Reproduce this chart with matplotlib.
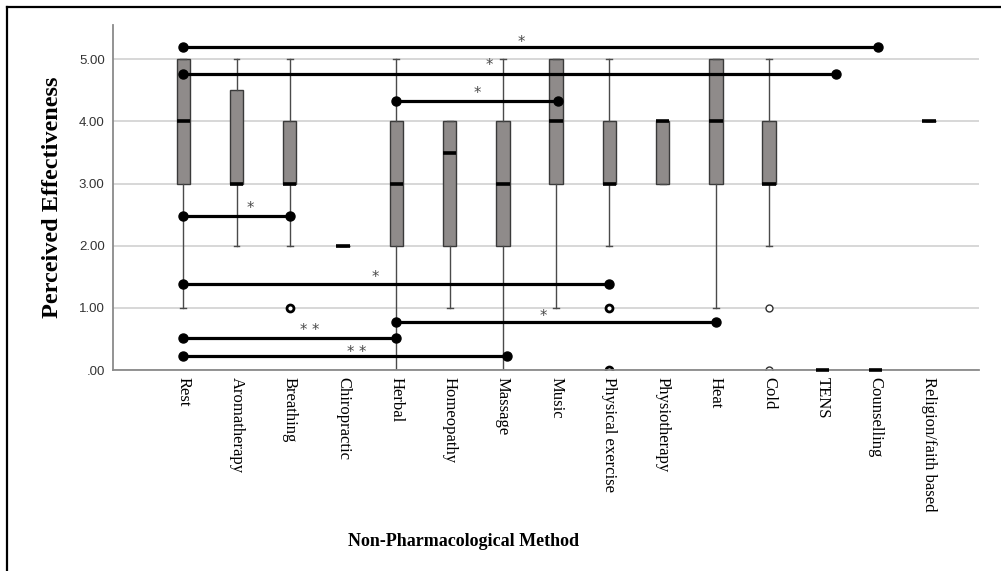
import numpy as np
import matplotlib
matplotlib.use('Agg')
import matplotlib.pyplot as plt
from matplotlib.lines import Line2D

# categories and box statistics
methods = ['Rest', 'Aromatherapy', 'Breathing', 'Chiropractic', 'Herbal',
           'Homeopathy', 'Massage', 'Music', 'Physical exercise', 'Physiotherapy',
           'Heat', 'Cold', 'TENS', 'Counselling', 'Religion/faith based']
q1 = [3, 3, 3, 2, 2, 2, 2, 3, 3, 3, 3, 3, 0, 0, 4]
med = [4, 3, 3, 2, 3, 3.5, 3, 4, 3, 4, 4, 3, 0, 0, 4]
q3 = [5, 4.5, 4, 2, 4, 4, 4, 5, 4, 4, 5, 4, 0, 0, 4]
whis_lo = [1, 2, 2, 2, 0, 1, 0, 1, 2, 3, 1, 2, 0, 0, 4]
whis_hi = [5, 5, 5, 2, 5, 4, 5, 5, 5, 4, 5, 5, 0, 0, 4]
outliers = [[], [], [1], [], [], [], [], [], [1, 0], [], [], [1, 0], [], [], []]
bold_outliers = [False, False, True, False, False, False, False, False, True,
                 False, False, False, False, False, False]

# pairwise comparisons (significance brackets)
pair_a = ['Rest', 'Rest', 'Herbal', 'Rest', 'Rest', 'Herbal', 'Rest', 'Rest']
pair_b = ['Counselling', 'TENS', 'Music', 'Breathing', 'Physical exercise',
          'Heat', 'Herbal', 'Massage']
pair_sig = ['*', '*', '*', '*', '*', '*', '* *', '* *']

# where the brackets/labels sit in the drawing
bracket_y = [5.19, 4.76, 4.33, 2.48, 1.38, 0.78, 0.52, 0.22]
bracket_end_nudge = [0.05, 0.25, 0.03, 0.0, 0.0, 0.0, 0.0, 0.08]
label_x = [6.34, 5.74, 5.51, 1.25, 3.60, 6.75, 2.38, 3.26]
label_y = [5.32, 4.95, 4.50, 2.65, 1.54, 0.92, 0.69, 0.34]

fig = plt.figure(figsize=(10.01, 5.71), dpi=100)
ax = fig.add_axes([0.1129, 0.352, 0.8651, 0.604])

stats = []
for i in range(len(methods)):
    stats.append({'label': methods[i], 'q1': q1[i], 'med': med[i], 'q3': q3[i],
                  'whislo': whis_lo[i], 'whishi': whis_hi[i], 'fliers': outliers[i]})

pos = np.arange(len(methods))
bp = ax.bxp(stats, positions=pos, widths=0.25, capwidths=0.11, patch_artist=True,
            boxprops=dict(facecolor='#8f8b8a', edgecolor='#3a3a3a', linewidth=1.0),
            whiskerprops=dict(color='#4a4a4a', linewidth=1.0),
            capprops=dict(color='#4a4a4a', linewidth=1.0),
            medianprops=dict(color='black', linewidth=2.6, solid_capstyle='butt'),
            flierprops=dict(marker='o', markersize=5, markerfacecolor='white',
                            markeredgecolor='#303030', markeredgewidth=1.0))
for fl, bold in zip(bp['fliers'], bold_outliers):
    if bold:
        fl.set_markeredgewidth(2.0)
        fl.set_markeredgecolor('black')
for m in bp['medians']:
    m.set_clip_on(False)
    m.set_zorder(4)

# significance brackets
for a, b, y, nud in zip(pair_a, pair_b, bracket_y, bracket_end_nudge):
    xa = methods.index(a)
    xb = methods.index(b) + nud
    ax.plot([xa, xb], [y, y], color='black', linewidth=2.3, marker='o',
            markersize=6.5, zorder=5, clip_on=False)
for s, x, y in zip(pair_sig, label_x, label_y):
    ax.text(x, y - 0.13, s, ha='center', va='baseline', fontsize=10.5,
            color='#4a4a4a', family='DejaVu Sans')

ax.set_xlim(-1.32, 14.94)
ax.set_ylim(0, 5.55)
ax.set_yticks([0, 1, 2, 3, 4, 5])
ax.set_yticklabels(['.00', '1.00', '2.00', '3.00', '4.00', '5.00'],
                   fontsize=9.5, color='#333333', family='Liberation Sans')
ax.set_xticks(pos)
ax.set_xticklabels(methods, rotation=270, fontsize=12, family='Liberation Serif',
                   va='top', ha='center')
ax.tick_params(axis='both', length=0)
ax.tick_params(axis='y', pad=6)
ax.tick_params(axis='x', pad=5)
ax.yaxis.grid(True, color='#d4d4d4', linewidth=1.3)
ax.set_axisbelow(True)
for side in ['top', 'right']:
    ax.spines[side].set_visible(False)
for side in ['left', 'bottom']:
    ax.spines[side].set_color('#8a8a8a')
    ax.spines[side].set_linewidth(1.3)
ax.set_zorder(1)

fig.text(0.052, 0.655, 'Perceived Effectiveness', rotation=90, ha='center', va='center',
         fontsize=17.5, fontweight='bold', family='Liberation Serif')
fig.text(0.4635, 0.051, 'Non-Pharmacological Method', ha='center', va='center',
         fontsize=13, fontweight='bold', family='Liberation Serif')

# outer frame (top and left edges visible)
fig.add_artist(Line2D([0.007, 0.007], [0.0, 0.988], transform=fig.transFigure,
                      color='black', linewidth=1.6))
fig.add_artist(Line2D([0.007, 1.0], [0.988, 0.988], transform=fig.transFigure,
                      color='black', linewidth=1.6))

fig.savefig('out.png', dpi=100)
